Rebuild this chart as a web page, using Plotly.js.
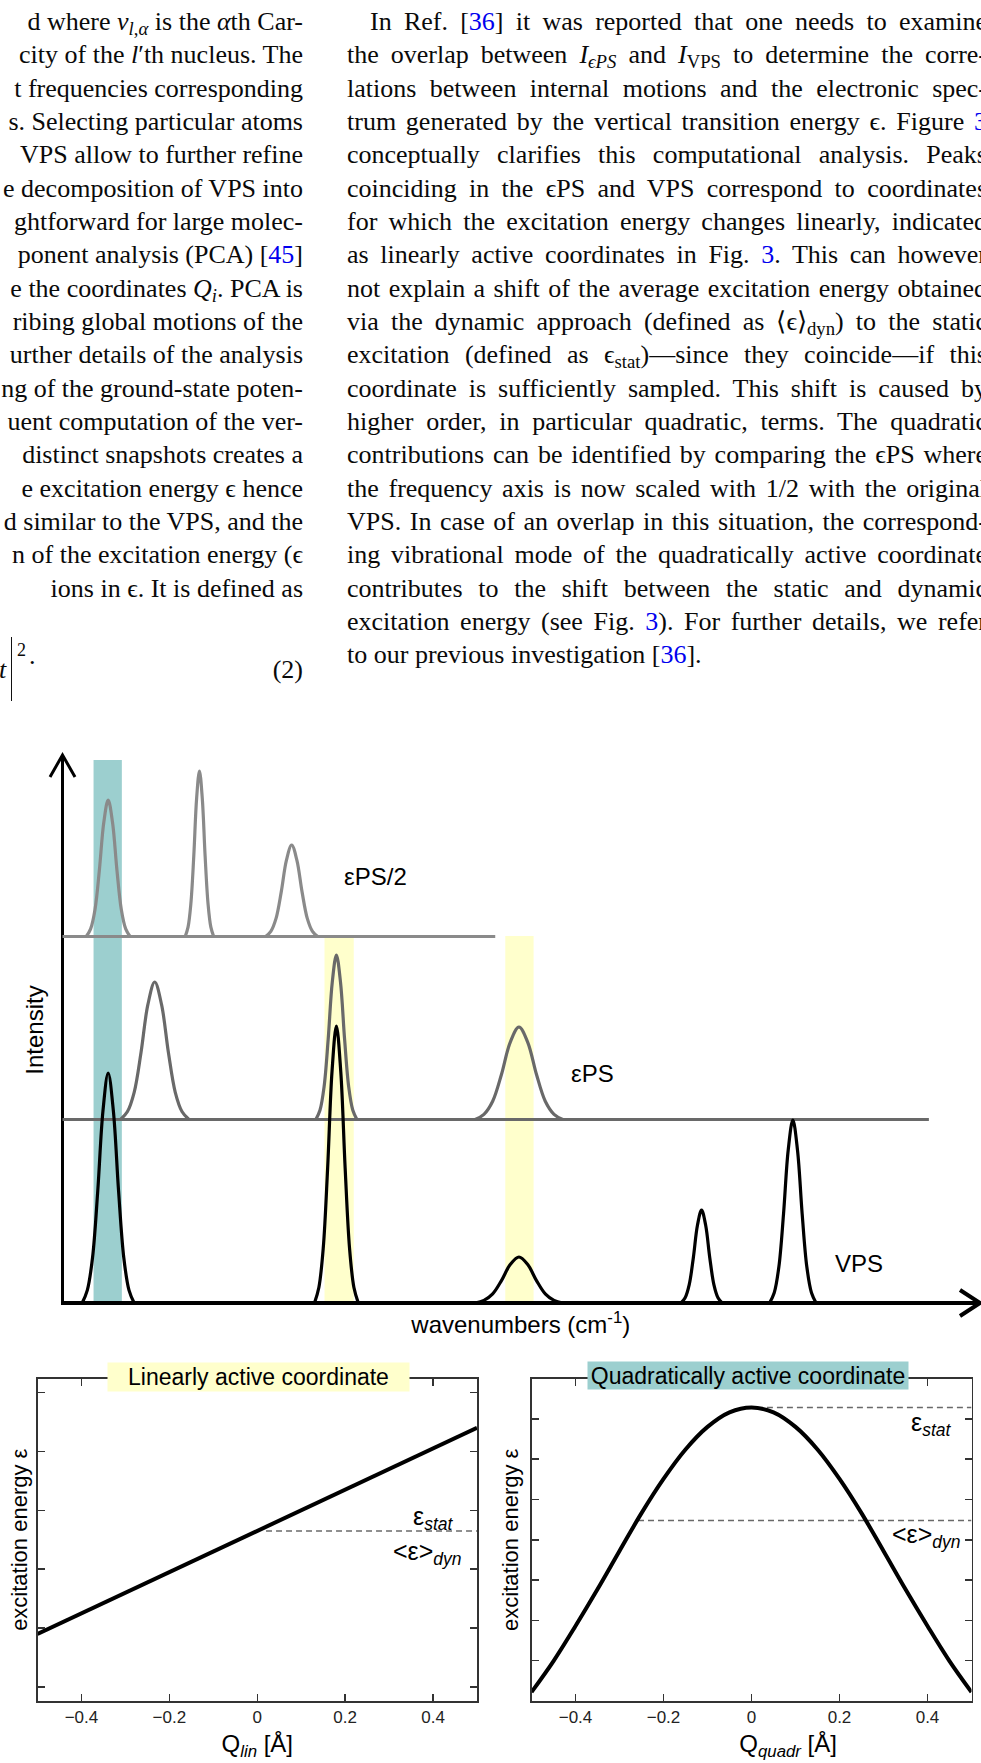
<!DOCTYPE html>
<html>
<head>
<meta charset="utf-8">
<script src="https://cdn.plot.ly/plotly-3.0.1.min.js"></script>
<style>
html,body{margin:0;padding:0;background:#fff;width:981px;height:1763px;overflow:hidden;}
#wrap{position:relative;width:981px;height:1763px;overflow:hidden;background:#fff;}
#plot{position:absolute;left:0;top:0;width:981px;height:1763px;}
.col{position:absolute;font-family:"Liberation Serif","Times New Roman",serif;font-size:26px;color:#0a0a0a;}
.col div{height:33.35px;line-height:33.35px;white-space:nowrap;}
#colL{left:-400px;width:703px;top:4.9px;}
#colL div{text-align:right;}
#colR{left:347px;width:640px;top:4.9px;}
#colR div{text-align:justify;text-align-last:justify;}
#colR div.ind{padding-left:23px;}
#colR div.last{text-align-last:left;}
.ref{color:#0000ee;}
.col sub{font-size:0.72em;vertical-align:-0.28em;line-height:0;}
.eq{position:absolute;font-family:"Liberation Serif","Times New Roman",serif;color:#0a0a0a;white-space:nowrap;}
</style>
</head>
<body>
<div id="wrap">
<div id="plot"></div>

<div class="col" id="colL">
<div>d where <i>v</i><sub><i>l</i>,<i>α</i></sub> is the <i>α</i>th Car-</div>
<div>city of the <i>l</i>′th nucleus. The</div>
<div>t frequencies corresponding</div>
<div>s. Selecting particular atoms</div>
<div>VPS allow to further refine</div>
<div>e decomposition of VPS into</div>
<div>ghtforward for large molec-</div>
<div>ponent analysis (PCA) [<span class="ref">45</span>]</div>
<div>e the coordinates <i>Q<sub>i</sub></i>. PCA is</div>
<div>ribing global motions of the</div>
<div>urther details of the analysis</div>
<div>ng of the ground-state poten-</div>
<div>uent computation of the ver-</div>
<div>distinct snapshots creates a</div>
<div>e excitation energy ϵ hence</div>
<div>d similar to the VPS, and the</div>
<div>n of the excitation energy (ϵ</div>
<div>ions in ϵ. It is defined as</div>
</div>

<div class="eq" style="left:-1px;top:653px;font-size:26px;line-height:33.35px;"><i>t</i></div>
<div class="eq" style="left:11px;top:637px;width:1px;height:64px;border-left:1.6px solid #111;"></div>
<div class="eq" style="left:17px;top:641px;font-size:18px;line-height:18px;">2</div>
<div class="eq" style="left:29px;top:639px;font-size:26px;line-height:33.35px;">.</div>
<div class="eq" style="right:678px;top:653px;font-size:26px;line-height:33.35px;">(2)</div>

<div class="col" id="colR">
<div class="ind">In Ref. [<span class="ref">36</span>] it was reported that one needs to examine</div>
<div>the overlap between <i>I</i><sub><i>ϵPS</i></sub> and <i>I</i><sub>VPS</sub> to determine the corre-</div>
<div>lations between internal motions and the electronic spec-</div>
<div>trum generated by the vertical transition energy ϵ. Figure <span class="ref">3</span></div>
<div>conceptually clarifies this computational analysis. Peaks</div>
<div>coinciding in the ϵPS and VPS correspond to coordinates</div>
<div>for which the excitation energy changes linearly, indicated</div>
<div>as linearly active coordinates in Fig. <span class="ref">3</span>. This can however</div>
<div>not explain a shift of the average excitation energy obtained</div>
<div>via the dynamic approach (defined as ⟨ϵ⟩<sub>dyn</sub>) to the static</div>
<div>excitation (defined as ϵ<sub>stat</sub>)—since they coincide—if this</div>
<div>coordinate is sufficiently sampled. This shift is caused by</div>
<div>higher order, in particular quadratic, terms. The quadratic</div>
<div>contributions can be identified by comparing the ϵPS where</div>
<div>the frequency axis is now scaled with 1/2 with the original</div>
<div>VPS. In case of an overlap in this situation, the correspond-</div>
<div>ing vibrational mode of the quadratically active coordinate</div>
<div>contributes to the shift between the static and dynamic</div>
<div>excitation energy (see Fig. <span class="ref">3</span>). For further details, we refer</div>
<div class="last">to our previous investigation [<span class="ref">36</span>].</div>
</div>
</div>

<script>
// ===================== DATA =====================
// Spectrum curves (x: wavenumber, arbitrary units; y: intensity, arbitrary units)
// epsilon-PS with frequency axis scaled by 1/2 (offset baseline)
const ePS2Base_x = [0, 474];
const ePS2Base_y = [3.665, 3.665];
const ePS2Peaks_x = [26,30.8,35.6,40.4,45.2,50,54.8,59.6,64.4,69.2,74, null,
  134.4,137.5,140.6,143.8,146.9,150,153.1,156.2,159.4,162.5,165.6, null,
  222.5,228.2,233.9,239.6,245.3,251,256.7,262.4,268.1,273.8,279.5];
const ePS2Peaks_y = [3.665,3.741,3.935,4.330,4.805,5.030,4.805,4.330,3.935,3.741,3.665, null,
  3.665,3.758,3.993,4.471,5.047,5.320,5.047,4.471,3.993,3.758,3.665, null,
  3.665,3.716,3.846,4.111,4.429,4.580,4.429,4.111,3.846,3.716,3.665];

// epsilon-PS (offset baseline)
const ePSBase_x = [0, 949];
const ePSBase_y = [1.835, 1.835];
const ePSPeaks_x = [63.5,71,78.5,86,93.5,101,108.5,116,123.5,131,138.5, null,
  277.5,282,286.5,291,295.5,300,304.5,309,313.5,318,322.5, null,
  452,461.6,471.2,480.8,490.4,500,509.6,519.2,528.8,538.4,548];
const ePSPeaks_y = [1.835,1.912,2.107,2.505,2.983,3.210,2.983,2.505,2.107,1.912,1.835, null,
  1.835,1.927,2.161,2.636,3.209,3.480,3.209,2.636,2.161,1.927,1.835, null,
  1.835,1.887,2.018,2.285,2.607,2.760,2.607,2.285,2.018,1.887,1.835];

// VPS
const vpsBase_x = [0, 1000];
const vpsBase_y = [0, 0];
const vpsPeaks_x = [21.5,27.2,32.9,38.6,44.3,50,55.7,61.4,67.1,72.8,78.5, null,
  276,280.8,285.6,290.4,295.2,300,304.8,309.6,314.4,319.2,324, null,
  452,461.6,471.2,480.8,490.4,500,509.6,519.2,528.8,538.4,548, null,
  677.5,682,686.5,691,695.5,700,704.5,709,713.5,718,722.5, null,
  774.5,779.6,784.7,789.8,794.9,800,805.1,810.2,815.3,820.4,825.5];
const vpsPeaks_y = [0,0.129,0.455,1.120,1.921,2.300,1.921,1.120,0.455,0.129,0, null,
  0,0.155,0.548,1.349,2.313,2.770,2.313,1.349,0.548,0.155,0, null,
  0,0.026,0.091,0.224,0.384,0.460,0.384,0.224,0.091,0.026,0, null,
  0,0.052,0.184,0.453,0.777,0.930,0.777,0.453,0.184,0.052,0, null,
  0,0.102,0.362,0.891,1.528,1.830,1.528,0.891,0.362,0.102,0];

// Highlighted modes (bands): start, end, top, kind
const bandStart = [34, 287, 485];
const bandEnd   = [65, 319, 516];
const bandTop   = [5.43, 3.67, 3.67];
const bandKind  = ['quadratic', 'linear', 'linear'];

// Linearly active coordinate
const linQ = [-0.5, 0.5];
const linE = [1.90, 5.40];
const linRefQ = [0.02, 0.5];
const linRefE = [3.65, 3.65];

// Quadratically active coordinate
const quadQ = [-0.5,-0.45,-0.4,-0.35,-0.3,-0.25,-0.2,-0.15,-0.1,-0.05,0,0.05,0.1,0.15,0.2,0.25,0.3,0.35,0.4,0.45,0.5];
const quadE = [0.22,0.99,1.86,2.77,3.72,4.66,5.51,6.24,6.80,7.16,7.28,7.16,6.80,6.24,5.51,4.66,3.72,2.77,1.86,0.99,0.22];
const quadStatQ = [0.035, 0.5];
const quadStatE = [7.28, 7.28];
const quadDynQ = [-0.258, 0.5];
const quadDynE = [4.48, 4.48];

// Tick positions
const qTicks = [-0.4, -0.2, 0, 0.2, 0.4];
const linETicks = [1, 2, 3, 4, 5, 6];
const quadETicks = [1, 2, 3, 4, 5, 6, 7];

// ===================== STYLE / LAYOUT =====================
const W = 981, H = 1763;
const px = v => v / W;
const py = v => 1 - v / H;
const FONT = 'Liberation Sans, Arial, Helvetica, sans-serif';
const TEAL = 'rgb(156,207,207)';
const YELLOW = 'rgb(255,255,204)';
const GRAY2 = 'rgb(138,138,138)';
const GRAY1 = 'rgb(105,105,105)';
const DASHC = 'rgb(105,105,105)';

const mainX = {dom: [px(61.6), px(980)], range: [-1, 1005]};
const mainY = {dom: [py(1305), py(755)], range: [-0.02, 5.48]};
const botY = [py(1701), py(1378.5)];

const traces = [
  {x: ePS2Base_x, y: ePS2Base_y, xaxis: 'x', yaxis: 'y', mode: 'lines', line: {color: GRAY2, width: 3.2}, name: 'εPS/2 baseline'},
  {x: ePS2Peaks_x, y: ePS2Peaks_y, xaxis: 'x', yaxis: 'y', mode: 'lines', connectgaps: false, line: {color: GRAY2, width: 3.2, shape: 'spline', smoothing: 1}, name: 'εPS/2'},
  {x: ePSBase_x, y: ePSBase_y, xaxis: 'x', yaxis: 'y', mode: 'lines', line: {color: GRAY1, width: 3.2}, name: 'εPS baseline'},
  {x: ePSPeaks_x, y: ePSPeaks_y, xaxis: 'x', yaxis: 'y', mode: 'lines', connectgaps: false, line: {color: GRAY1, width: 3.2, shape: 'spline', smoothing: 1}, name: 'εPS'},
  {x: vpsBase_x, y: vpsBase_y, xaxis: 'x', yaxis: 'y', mode: 'lines', line: {color: '#000', width: 3.2}, name: 'VPS baseline'},
  {x: vpsPeaks_x, y: vpsPeaks_y, xaxis: 'x', yaxis: 'y', mode: 'lines', connectgaps: false, line: {color: '#000', width: 3.2, shape: 'spline', smoothing: 1}, name: 'VPS'},

  {x: linRefQ, y: linRefE, xaxis: 'x2', yaxis: 'y2', mode: 'lines', line: {color: DASHC, width: 1.5, dash: '6px,4px'}, name: 'ε stat / dyn'},
  {x: linQ, y: linE, xaxis: 'x2', yaxis: 'y2', mode: 'lines', line: {color: '#000', width: 4}, name: 'linear'},

  {x: quadStatQ, y: quadStatE, xaxis: 'x3', yaxis: 'y3', mode: 'lines', line: {color: DASHC, width: 1.5, dash: '6px,4px'}, name: 'ε stat'},
  {x: quadDynQ, y: quadDynE, xaxis: 'x3', yaxis: 'y3', mode: 'lines', line: {color: DASHC, width: 1.5, dash: '6px,4px'}, name: '<ε> dyn'},
  {x: quadQ, y: quadE, xaxis: 'x3', yaxis: 'y3', mode: 'lines', line: {color: '#000', width: 4, shape: 'spline', smoothing: 1}, name: 'quadratic'}
];

const shapes = bandStart.map((s, i) => ({
  type: 'rect', xref: 'x', yref: 'y', x0: s, x1: bandEnd[i], y0: 0, y1: bandTop[i],
  fillcolor: bandKind[i] === 'quadratic' ? TEAL : YELLOW, line: {width: 0}, layer: 'below'
}));

// arrow heads at the ends of the main axes (paper refs, pixel-sized)
function paperX(v) { return mainX.dom[0] + (v - mainX.range[0]) / (mainX.range[1] - mainX.range[0]) * (mainX.dom[1] - mainX.dom[0]); }
function paperY(v) { return mainY.dom[0] + (v - mainY.range[0]) / (mainY.range[1] - mainY.range[0]) * (mainY.dom[1] - mainY.dom[0]); }
shapes.push({type: 'path', xref: 'paper', yref: 'paper', xsizemode: 'pixel', ysizemode: 'pixel',
  xanchor: paperX(0), yanchor: paperY(mainY.range[1]), path: 'M-12.5,-22L0,0L12.5,-22',
  line: {color: '#000', width: 3}});
shapes.push({type: 'path', xref: 'paper', yref: 'paper', xsizemode: 'pixel', ysizemode: 'pixel',
  xanchor: paperX(mainX.range[1]), yanchor: paperY(0), path: 'M-20,13L0,0L-20,-13',
  line: {color: '#000', width: 4}});

const frameAxis = {
  showline: true, linecolor: '#333', linewidth: 1.5, mirror: 'ticks',
  ticks: 'inside', ticklen: 7, tickwidth: 1.5, tickcolor: '#333',
  showgrid: false, zeroline: false, fixedrange: true
};

const layout = {
  width: W, height: H,
  margin: {l: 0, r: 0, t: 0, b: 0},
  paper_bgcolor: '#fff', plot_bgcolor: 'rgba(0,0,0,0)',
  showlegend: false,
  font: {family: FONT, color: '#000', size: 16},
  xaxis: {domain: mainX.dom, range: mainX.range, anchor: 'y',
    showgrid: false, showticklabels: false, ticks: '', showline: false,
    zeroline: true, zerolinecolor: '#000', zerolinewidth: 3, fixedrange: true,
    title: {text: 'wavenumbers (cm<sup>-1</sup>)', font: {size: 24, family: FONT}, standoff: 11}},
  yaxis: {domain: mainY.dom, range: mainY.range, anchor: 'x',
    showgrid: false, showticklabels: false, ticks: '', showline: false,
    zeroline: true, zerolinecolor: '#000', zerolinewidth: 4.5, fixedrange: true,
    title: {text: 'Intensity', font: {size: 24, family: FONT}, standoff: 10}},

  xaxis2: Object.assign({}, frameAxis, {domain: [px(37.5), px(477)], range: [-0.5, 0.5], anchor: 'y2',
    tickmode: 'array', tickvals: qTicks, tickfont: {size: 17, color: '#222'},
    title: {text: 'Q<sub><i>lin</i></sub> [Å]', font: {size: 24, family: FONT}, standoff: 9}}),
  yaxis2: Object.assign({}, frameAxis, {domain: botY, range: [0.762, 6.238], anchor: 'x2',
    tickmode: 'array', tickvals: linETicks, showticklabels: false,
    title: {text: 'excitation energy ε', font: {size: 22, family: FONT}, standoff: 2}}),

  xaxis3: Object.assign({}, frameAxis, {domain: [px(531.5), px(971.5)], range: [-0.5, 0.5], anchor: 'y3',
    tickmode: 'array', tickvals: qTicks, tickfont: {size: 17, color: '#222'},
    title: {text: '&nbsp;&nbsp;&nbsp;&nbsp;&nbsp;&nbsp;&nbsp;&nbsp;&nbsp;&nbsp;&nbsp;Q<sub><i>quadr</i></sub> [Å]', font: {size: 24, family: FONT}, standoff: 9}}),
  yaxis3: Object.assign({}, frameAxis, {domain: botY, range: [0, 8], anchor: 'x3',
    tickmode: 'array', tickvals: quadETicks, showticklabels: false,
    title: {text: 'excitation energy ε', font: {size: 22, family: FONT}, standoff: 5}}),

  shapes: shapes,
  annotations: [
    {xref: 'x', yref: 'y', x: 343, y: 4.27, text: 'εPS/2', showarrow: false, font: {size: 24}},
    {xref: 'x', yref: 'y', x: 580, y: 2.30, text: 'εPS', showarrow: false, font: {size: 24}},
    {xref: 'x', yref: 'y', x: 873, y: 0.40, text: 'VPS', showarrow: false, font: {size: 24}},

    {xref: 'paper', yref: 'paper', x: px(258.5), y: py(1377), xanchor: 'center', yanchor: 'middle',
      text: 'Linearly active coordinate',
      showarrow: false, bgcolor: YELLOW, width: 301, height: 28, borderpad: 0, font: {size: 23}},
    {xref: 'paper', yref: 'paper', x: px(748), y: py(1375.5), xanchor: 'center', yanchor: 'middle',
      text: 'Quadratically active coordinate',
      showarrow: false, bgcolor: TEAL, width: 320, height: 27, borderpad: 0, font: {size: 23}},

    {xref: 'paper', yref: 'paper', x: px(456), y: py(1518), xanchor: 'right', yanchor: 'middle', text: 'ε<sub><i>stat</i></sub>', showarrow: false, font: {size: 25}},
    {xref: 'paper', yref: 'paper', x: px(464), y: py(1553), xanchor: 'right', yanchor: 'middle', text: '&lt;ε&gt;<sub><i>dyn</i></sub>', showarrow: false, font: {size: 25}},
    {xref: 'paper', yref: 'paper', x: px(954), y: py(1424), xanchor: 'right', yanchor: 'middle', text: 'ε<sub><i>stat</i></sub>', showarrow: false, font: {size: 25}},
    {xref: 'paper', yref: 'paper', x: px(963), y: py(1536), xanchor: 'right', yanchor: 'middle', text: '&lt;ε&gt;<sub><i>dyn</i></sub>', showarrow: false, font: {size: 25}}
  ]
};

Plotly.newPlot('plot', traces, layout, {displayModeBar: false, staticPlot: true});
</script>
</body>
</html>
